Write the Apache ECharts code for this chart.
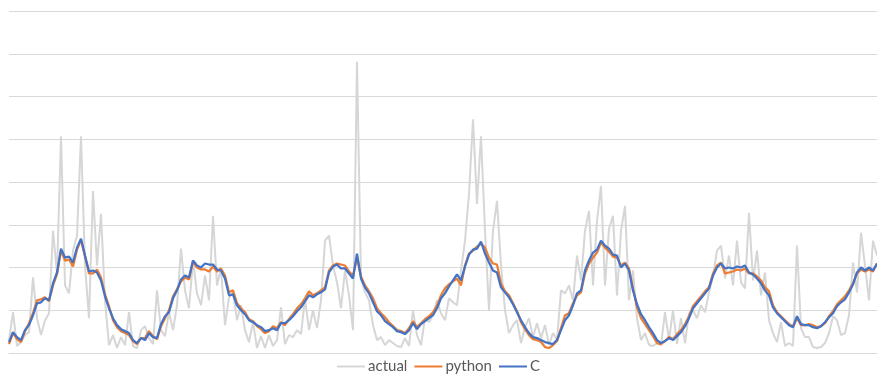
<!DOCTYPE html>
<html>
<head>
<meta charset="utf-8">
<script src="https://cdn.jsdelivr.net/npm/echarts@6/dist/echarts.min.js"></script>
<style>
  html, body { margin: 0; padding: 0; background: #fff; }
  #chart { width: 877px; height: 376px; }
</style>
</head>
<body>
<div id="chart"></div>
<script>
// values, one sample every ~4px
const actual = [
  13, 41, 7, 11, 18, 21, 76, 35, 18, 33, 40, 123, 80, 218, 68, 60, 103, 118, 218, 88,
  35, 163, 88, 140, 53, 8, 18, 5, 16, 8, 41, 7, 5, 23, 27, 15, 9, 63, 23, 17,
  41, 23, 48, 105, 63, 45, 93, 60, 48, 78, 53, 138, 68, 85, 28, 56, 61, 33, 48, 23,
  11, 31, 5, 17, 5, 18, 7, 13, 46, 9, 18, 16, 23, 19, 55, 23, 43, 25, 53, 113,
  118, 88, 71, 45, 83, 58, 23, 293, 75, 61, 53, 28, 13, 16, 8, 13, 10, 7, 6, 15,
  7, 43, 18, 8, 35, 31, 38, 53, 40, 33, 55, 51, 48, 83, 113, 160, 235, 150, 218, 123,
  43, 123, 153, 88, 43, 20, 28, 33, 10, 26, 35, 16, 30, 15, 28, 8, 20, 13, 63, 60,
  68, 53, 98, 73, 123, 143, 68, 133, 168, 68, 125, 138, 58, 123, 148, 53, 83, 35, 13, 20,
  8, 7, 10, 8, 41, 13, 43, 9, 35, 10, 40, 43, 35, 48, 41, 61, 77, 103, 108, 75,
  98, 68, 113, 71, 65, 141, 73, 103, 58, 81, 33, 20, 11, 31, 7, 10, 7, 108, 25, 16,
  16, 6, 5, 6, 10, 20, 37, 33, 18, 20, 38, 91, 61, 121, 88, 53, 113, 98
];

const python = [
  9, 20, 14, 11, 22, 30, 40, 53, 54, 56, 52, 68, 79, 103, 93, 94, 87, 104, 114, 97,
  80, 80, 84, 76, 59, 47, 33, 26, 22, 20, 18, 12, 9, 15, 15, 22, 17, 14, 27, 35,
  43, 57, 64, 72, 76, 74, 92, 86, 84, 84, 82, 87, 82, 85, 78, 61, 63, 50, 45, 41,
  34, 32, 27, 24, 20, 22, 27, 25, 31, 28, 34, 39, 45, 49, 55, 62, 58, 60, 63, 66,
  83, 88, 90, 89, 88, 82, 78, 96, 77, 68, 62, 55, 45, 40, 36, 31, 27, 23, 22, 20,
  25, 32, 26, 30, 34, 37, 41, 48, 58, 65, 69, 72, 75, 68, 88, 100, 103, 107, 110, 106,
  96, 90, 89, 70, 62, 58, 50, 42, 31, 24, 18, 14, 13, 11, 6, 5, 8, 12, 25, 38,
  40, 50, 58, 61, 80, 90, 96, 101, 111, 106, 102, 97, 96, 88, 91, 85, 65, 46, 35, 29,
  23, 17, 10, 9, 12, 16, 14, 19, 23, 29, 37, 47, 52, 57, 62, 66, 80, 88, 91, 80,
  81, 82, 84, 83, 85, 80, 80, 77, 73, 66, 62, 48, 41, 37, 33, 29, 27, 35, 28, 28,
  29, 28, 26, 27, 30, 37, 42, 49, 53, 57, 63, 70, 80, 84, 82, 84, 82, 90
];

const cValues = [
  11, 21, 16, 13, 23, 28, 38, 50, 51, 55, 53, 70, 81, 105, 96, 97, 91, 106, 115, 98,
  82, 83, 81, 73, 57, 45, 35, 28, 24, 22, 20, 13, 10, 15, 13, 20, 16, 15, 29, 37,
  41, 55, 63, 74, 78, 76, 93, 88, 86, 90, 89, 89, 84, 83, 75, 58, 59, 48, 43, 39,
  33, 31, 28, 26, 22, 23, 25, 23, 30, 30, 33, 37, 42, 46, 52, 58, 56, 59, 61, 64,
  81, 87, 89, 85, 85, 80, 75, 100, 75, 66, 60, 51, 42, 38, 32, 29, 26, 22, 21, 19,
  23, 30, 24, 29, 32, 35, 38, 45, 55, 60, 67, 73, 79, 73, 87, 99, 104, 105, 112, 100,
  91, 83, 81, 66, 61, 56, 49, 41, 33, 26, 20, 16, 15, 13, 11, 10, 9, 13, 23, 33,
  38, 48, 60, 63, 83, 93, 101, 104, 113, 108, 105, 99, 98, 86, 90, 83, 63, 49, 39, 33,
  26, 20, 13, 10, 12, 15, 13, 17, 21, 27, 35, 45, 50, 55, 60, 65, 78, 86, 90, 85,
  86, 85, 87, 86, 88, 81, 79, 75, 70, 63, 58, 46, 40, 36, 32, 28, 26, 37, 29, 28,
  28, 26, 25, 27, 31, 36, 40, 47, 51, 54, 61, 69, 81, 86, 83, 86, 83, 90
];

const steps = actual.map((_, i) => i + 1);

const chart = echarts.init(document.getElementById('chart'));

chart.setOption({
    animation: false,
    backgroundColor: '#fff',
    textStyle: { fontFamily: 'Lato, "Open Sans", sans-serif' },

    grid: { left: 9, right: 0, top: 11, bottom: 23 },

    legend: {
        bottom: -3,
        left: 'center',
        icon: 'rect',
        itemWidth: 28,
        itemHeight: 2,
        itemGap: 7,
        textStyle: { color: '#595959', fontSize: 15, padding: [0, 0, 0, -2] },
        data: ['actual', 'python', 'C']
    },

    xAxis: {
        type: 'category',
        data: steps,
        boundaryGap: false,
        axisLine: { lineStyle: { color: '#d9d9d9' } },
        axisTick: { show: false },
        axisLabel: { show: false }
    },

    yAxis: {
        type: 'value',
        min: 0,
        max: 344,
        interval: 43,
        axisLine: { show: false },
        axisTick: { show: false },
        axisLabel: { show: false },
        splitLine: { lineStyle: { color: '#d9d9d9', width: 1 } }
    },

    series: [
        {
            name: 'actual',
            type: 'line',
            data: actual,
            symbol: 'none',
            color: '#d6d6d6',
            lineStyle: { width: 2 }
        },
        {
            name: 'python',
            type: 'line',
            data: python,
            symbol: 'none',
            color: '#ed7d31',
            lineStyle: { width: 2.25 }
        },
        {
            name: 'C',
            type: 'line',
            data: cValues,
            symbol: 'none',
            color: '#4472c4',
            lineStyle: { width: 2.25 }
        }
    ]
});
</script>
</body>
</html>
